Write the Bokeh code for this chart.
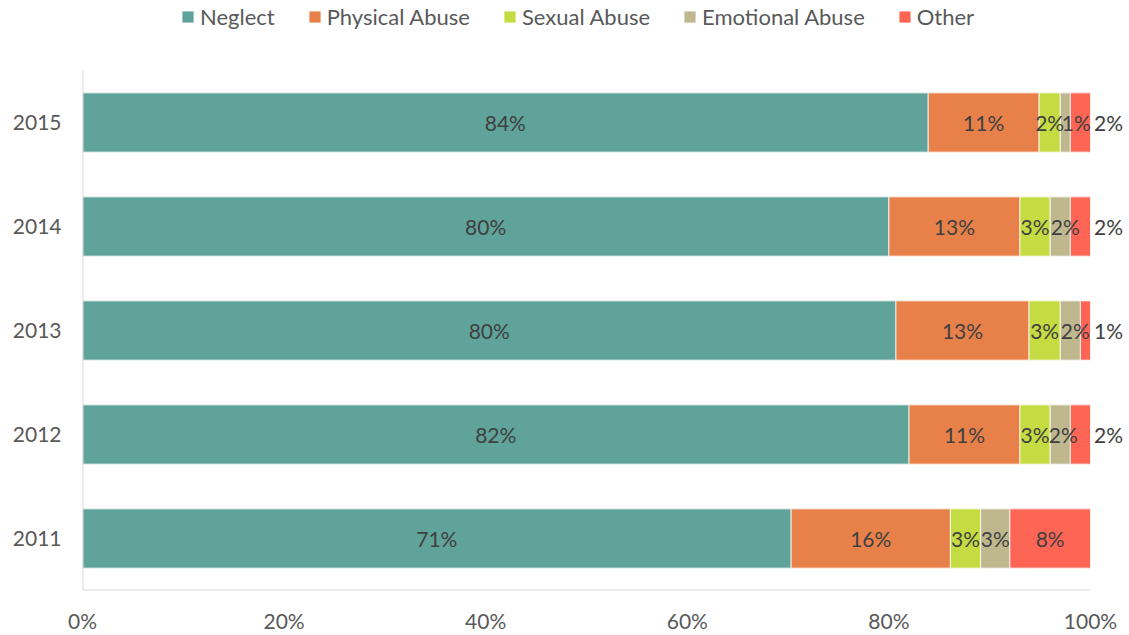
from bokeh.plotting import figure
from bokeh.models import (ColumnDataSource, Range1d, FixedTicker,
                          PrintfTickFormatter, LabelSet)
from bokeh.core.properties import value
from bokeh.embed import file_html
from bokeh.resources import INLINE

# ---------------- data ----------------
years = ["2011", "2012", "2013", "2014", "2015"]
series = ["Neglect", "Physical Abuse", "Sexual Abuse", "Emotional Abuse", "Other"]
neglect = [70.3, 82.0, 80.7, 80.0, 83.9]
physical = [15.8, 11.0, 13.2, 13.0, 11.0]
sexual = [3.0, 3.0, 3.1, 3.0, 2.1]
emotional = [2.9, 2.0, 2.0, 2.0, 1.0]
other = [8.0, 2.0, 1.0, 2.0, 2.0]
neglect_labels = ["71%", "82%", "80%", "80%", "84%"]
physical_labels = ["16%", "11%", "13%", "13%", "11%"]
sexual_labels = ["3%", "3%", "3%", "3%", "2%"]
emotional_labels = ["3%", "2%", "2%", "2%", "1%"]
other_labels = ["8%", "2%", "1%", "2%", "2%"]
x_ticks = [0, 20, 40, 60, 80, 100]

# ---------------- style ----------------
colors = ["#5fa39a", "#e8804a", "#c4dc41", "#bfb88f", "#fe6555"]
FONT = "Lato"
LABEL_COLOR = "#404040"
TICK_COLOR = "#595959"
AXIS_COLOR = "#d9d9d9"
nudges = {"Emotional Abuse": [0, 3, 5, 5, 11]}   # px, avoid overlaps
other_outside = [False, True, True, True, True]
OUTSIDE_PX = 18

W, H = 1129, 635
FRAME_L, FRAME_B, X100 = 82, 590, 1090          # page pixels
BAND = (FRAME_B - 70) / len(years)               # px per category
x_end = 100.0 * (W - FRAME_L) / (X100 - FRAME_L)
y_top = len(years) - 0.5 + 70 / BAND

values = [neglect, physical, sexual, emotional, other]
labels = [neglect_labels, physical_labels, sexual_labels, emotional_labels, other_labels]
ypos = list(range(len(years)))

p = figure(width=W, height=H, output_backend="svg", toolbar_location=None,
           x_range=Range1d(0, x_end), y_range=Range1d(-0.5, y_top),
           min_border_left=FRAME_L, min_border_right=0,
           min_border_top=0, min_border_bottom=H - FRAME_B)

lab_x, lab_y, lab_t, lab_dx = [], [], [], []
left = [0.0] * len(years)
for i, (name, vals, labs) in enumerate(zip(series, values, labels)):
    right = [l + v for l, v in zip(left, vals)]
    src = ColumnDataSource(dict(y=ypos, left=left, right=right))
    p.hbar(y="y", left="left", right="right", height=0.57, source=src,
           fill_color=colors[i], line_color="white", line_width=0.8,
           legend_label=name)
    for j in range(len(years)):
        dx = nudges.get(name, [0] * len(years))[j]
        if name == "Other" and other_outside[j]:
            lab_x.append(100.0)
            dx = OUTSIDE_PX
        else:
            lab_x.append((left[j] + right[j]) / 2)
        lab_y.append(ypos[j])
        lab_t.append(labs[j])
        lab_dx.append(dx)
    left = right

lsrc = ColumnDataSource(dict(x=lab_x, y=lab_y, t=lab_t, dx=lab_dx))
p.add_layout(LabelSet(x="x", y="y", text="t", x_offset="dx", source=lsrc,
                      text_align="center", text_baseline="middle",
                      text_font=value(FONT), text_font_size="21px",
                      text_color=LABEL_COLOR))

# axis lines drawn over the data extent only
p.segment(x0=[0, 0], y0=[-0.5, -0.5], x1=[0, 100], y1=[len(years) - 0.5, -0.5],
          line_color=AXIS_COLOR, line_width=2)

# axes
p.xaxis.ticker = FixedTicker(ticks=x_ticks)
p.xaxis.formatter = PrintfTickFormatter(format="%d%%")
p.yaxis.ticker = FixedTicker(ticks=ypos)
p.yaxis.major_label_overrides = {k: y for k, y in zip(ypos, years)}
for ax in (p.xaxis, p.yaxis):
    ax.axis_line_color = None
    ax.major_tick_line_color = None
    ax.minor_tick_line_color = None
    ax.major_tick_in = 0
    ax.major_tick_out = 0
    ax.major_label_text_font = FONT
    ax.major_label_text_font_size = "21px"
    ax.major_label_text_color = TICK_COLOR
p.xaxis.major_label_standoff = 17
p.yaxis.major_label_standoff = 21
p.xgrid.visible = False
p.ygrid.visible = False
p.outline_line_color = None

# legend
lg = p.legend[0]
lg.orientation = "horizontal"
lg.location = (98, 560)
lg.glyph_width = 15
lg.glyph_height = 15
lg.label_standoff = 5
lg.spacing = 32
lg.padding = 0
lg.margin = 0
lg.label_height = 25
lg.border_line_alpha = 0
lg.background_fill_alpha = 0
lg.label_text_font = FONT
lg.label_text_font_size = "22px"
lg.label_text_color = TICK_COLOR

open("out.html", "w").write(file_html(p, INLINE))
